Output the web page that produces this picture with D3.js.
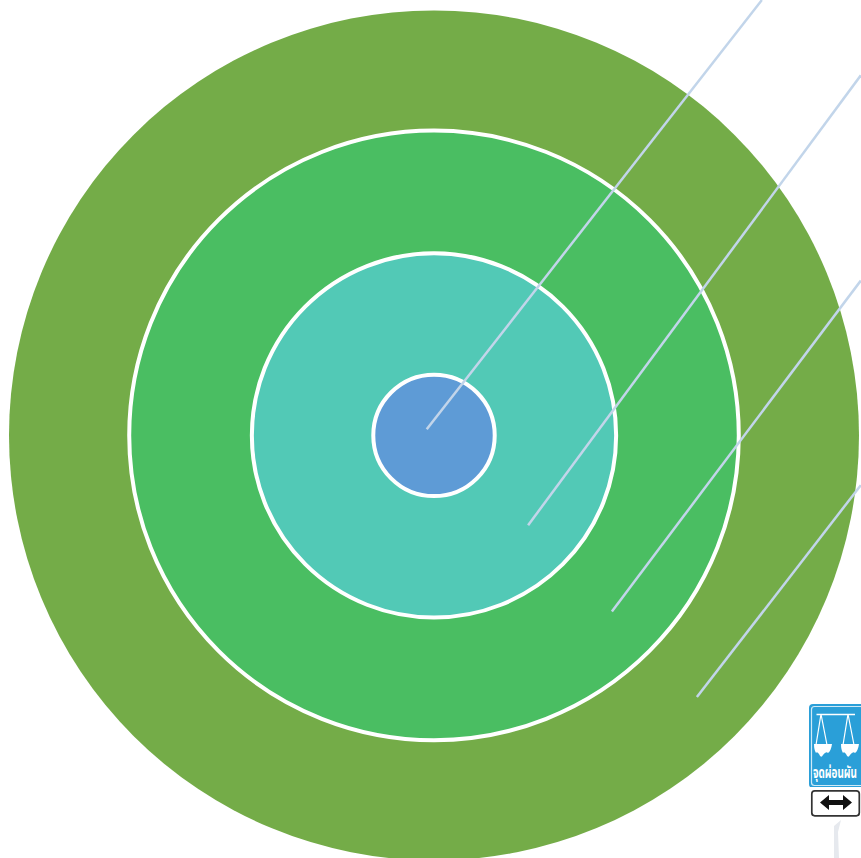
<!DOCTYPE html>
<html><head><meta charset="utf-8">
<script src="https://cdn.jsdelivr.net/npm/d3@7"></script>
<style>html,body{margin:0;padding:0;background:#fff;overflow:hidden}svg{display:block}</style>
</head><body><div id="c"></div>
<script>
const ringValues=[7,5.02,3,1];
const ringColors=["#74ac48","#4abe62","#52c9b6","#5e9bd6"];
const ringStroke=["none","#fff","#fff","#fff"];
const leaderStartX=[-0.12,1.55,2.93,4.33];
const leaderStartY=[-0.1,1.48,2.9,4.31];
const leaderEndX=[5.4,7.03,7.03,7.03];
const leaderEndY=[-7.17,-5.93,-2.55,0.82];
const signLabel="จุดผ่อนผัน";

const W=861,H=858,cx=434,cy=435.4;
const svg=d3.select("#c").append("svg").attr("width",W).attr("height",H);
const r=d3.scaleLinear().domain([0,7]).range([0,425]);
const x=d3.scaleLinear().domain([0,7]).range([cx,cx+425]);
const y=d3.scaleLinear().domain([0,7]).range([cy,cy+425]);

svg.append("g").selectAll("circle").data(ringValues).join("circle")
 .attr("cx",cx).attr("cy",cy).attr("r",d=>r(d))
 .attr("fill",(d,i)=>ringColors[i])
 .attr("stroke",(d,i)=>ringStroke[i]).attr("stroke-width",4);

svg.append("g").selectAll("line").data(leaderStartX).join("line")
 .attr("x1",d=>x(d)).attr("y1",(d,i)=>y(leaderStartY[i]))
 .attr("x2",(d,i)=>x(leaderEndX[i])).attr("y2",(d,i)=>y(leaderEndY[i]))
 .attr("stroke","#c2d5ea").attr("stroke-width",2.5);

// road sign
const s=svg.append("g");
s.append("rect").attr("x",809).attr("y",704).attr("width",56).attr("height",84).attr("rx",4).attr("fill","#2a9fd8");
s.append("rect").attr("x",811.5).attr("y",706.5).attr("width",52).attr("height",79).attr("rx",3).attr("fill","none").attr("stroke","#cfeaf7").attr("stroke-width",1.2);
s.append("rect").attr("x",809).attr("y",787).attr("width",56).attr("height",33).attr("fill","#fff");
s.append("line").attr("x1",816.5).attr("x2",855).attr("y1",714.5).attr("y2",714.5).attr("stroke","#fff").attr("stroke-width",1.6);
[821,848].forEach(c=>{
 s.append("path").attr("d",`M${c},714L${c-5},745M${c},714L${c+6},745`).attr("stroke","#fff").attr("stroke-width",1.2).attr("fill","none");
 s.append("path").attr("d",`M${c-7},744H${c+11}Q${c+10},751 ${c+7},753Q${c+5},751 ${c+2},755Q${c},759 ${c-2},754Q${c-4},751 ${c-5},753Q${c-7},750 ${c-7},744Z`).attr("fill","#fff");
});
const t=s.append("text").attr("text-anchor","middle").attr("fill","#fff")
 .attr("font-family","'Noto Sans','Noto Sans Thai','DejaVu Sans',sans-serif").attr("font-size",14).attr("font-weight",700)
 .text(signLabel);
const tw=t.node().getComputedTextLength();
t.attr("transform",`translate(835,778) scale(${44/tw},1.15)`);
s.append("rect").attr("x",811.8).attr("y",790.8).attr("width",47.5).attr("height",25).attr("rx",3).attr("fill","#fff").attr("stroke","#333").attr("stroke-width",1.7);
s.append("path").attr("d","M820,802.5L829,795V800H843V795L852,802.5L843,810V805H829V810Z").attr("fill","#111");
s.append("path").attr("d","M834,858V826L841,820L838,832L839,858Z").attr("fill","#e6e9ee");
</script></body></html>
